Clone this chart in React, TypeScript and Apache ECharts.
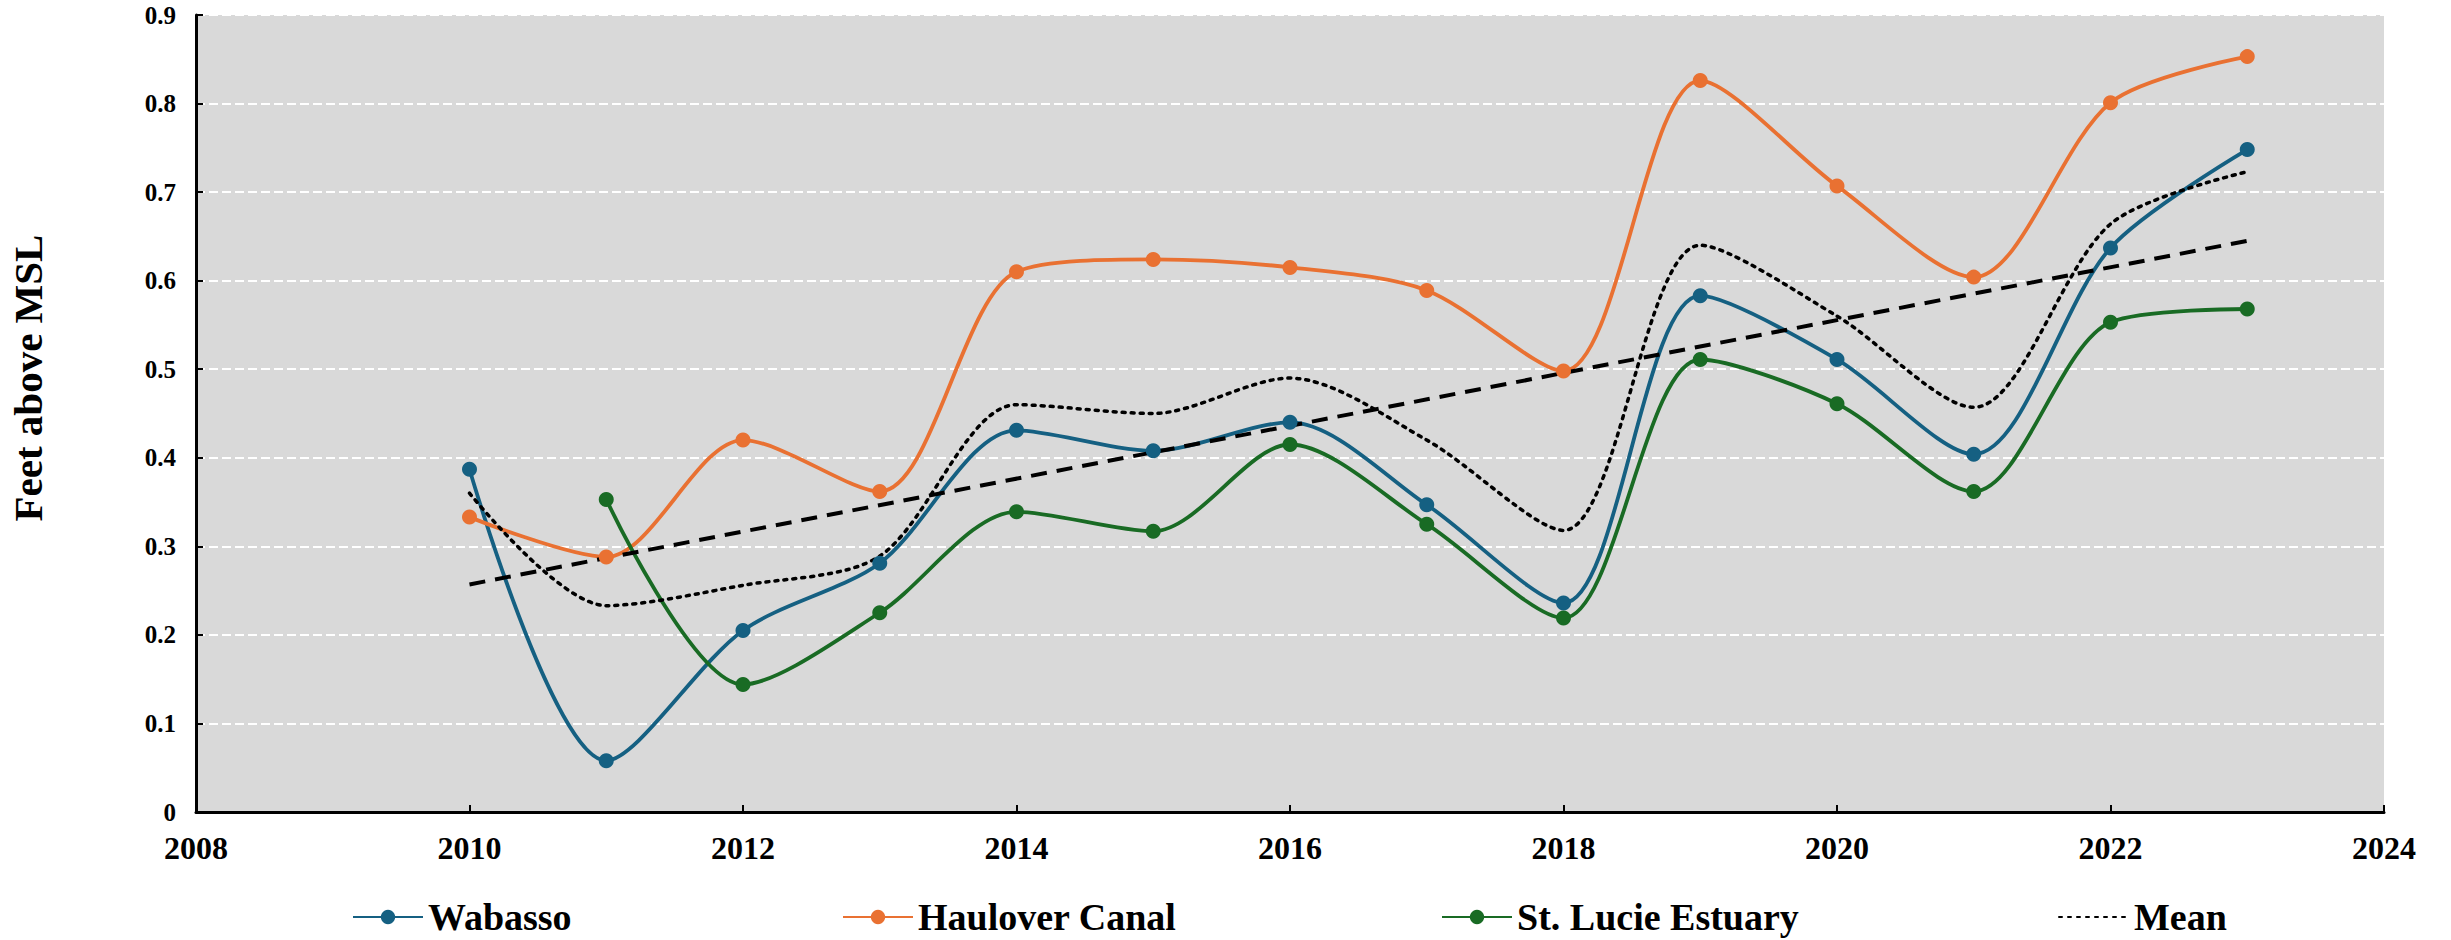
import React, { useEffect, useRef } from "react";
import * as echarts from "echarts";

const years = [2010, 2011, 2012, 2013, 2014, 2015, 2016, 2017, 2018, 2019, 2020, 2021, 2022, 2023];
const wabasso = [0.387, 0.058, 0.205, 0.281, 0.431, 0.408, 0.44, 0.347, 0.236, 0.583, 0.511, 0.404, 0.637, 0.748];
const haulover = [0.333, 0.288, 0.42, 0.362, 0.61, 0.624, 0.615, 0.589, 0.498, 0.826, 0.707, 0.604, 0.801, 0.853];
const stLucieYears = [2011, 2012, 2013, 2014, 2015, 2016, 2017, 2018, 2019, 2020, 2021, 2022, 2023];
const stLucie = [0.353, 0.144, 0.225, 0.339, 0.317, 0.415, 0.325, 0.219, 0.511, 0.461, 0.362, 0.553, 0.568];
const mean = [0.36, 0.233, 0.256, 0.289, 0.46, 0.45, 0.49, 0.42, 0.318, 0.64, 0.56, 0.457, 0.664, 0.723];
const trendYears = [2010, 2023];
const trend = [0.257, 0.645];

const xTicks = { min: 2008, max: 2024, interval: 2 };
const yTicks = { min: 0, max: 0.9, interval: 0.1 };

const seriesNames = ["Wabasso", "Haulover Canal", "St. Lucie Estuary", "Mean"];
const colors = ["#156082", "#E97132", "#196B24", "#000000"];

const FONT = "'Liberation Serif', 'Times New Roman', serif";
const SMOOTH = 0.3;

export default function App() {
  const ref = useRef<HTMLDivElement>(null);
  useEffect(() => {
    document.body.style.margin = "0";
    const chart = echarts.init(ref.current!, null, { renderer: "svg" });
    const pairs = (xs: number[], ys: number[]) => xs.map((x, i) => [x, ys[i]]);
    const lineSeries = (name: string, xs: number[], ys: number[], color: string) => ({
      name,
      type: "line",
      data: pairs(xs, ys),
      smooth: SMOOTH,
      symbol: "circle",
      symbolSize: 15,
      itemStyle: { color },
      lineStyle: { color, width: 3.8 },
    });
    const legendPos = [352, 842, 1441, 2058];
    chart.setOption({
      animation: false,
      grid: {
        left: 196,
        right: 67,
        top: 15,
        bottom: 128,
        show: true,
        backgroundColor: "#D9D9D9",
        borderWidth: 0,
      },
      legend: seriesNames.map((n, i) => ({
        data: [i === 3 ? { name: n, itemStyle: { opacity: 0 } } : n],
        left: legendPos[i],
        top: 898,
        padding: 0,
        itemWidth: 70,
        itemHeight: 18,
        itemGap: 10,
        textStyle: { fontFamily: FONT, fontWeight: "bold", fontSize: 38, color: "#000" },
      })),
      xAxis: {
        type: "value",
        min: xTicks.min,
        max: xTicks.max,
        interval: xTicks.interval,
        axisLine: { show: true, lineStyle: { color: "#000", width: 3 } },
        axisTick: { show: true, inside: true, length: 7, lineStyle: { color: "#000", width: 2 } },
        splitLine: { show: false },
        axisLabel: {
          fontFamily: FONT,
          fontWeight: "bold",
          fontSize: 32,
          color: "#000",
          margin: 20,
          formatter: (v: number) => String(v),
        },
      },
      yAxis: {
        type: "value",
        min: yTicks.min,
        max: yTicks.max,
        interval: yTicks.interval,
        axisLine: { show: true, lineStyle: { color: "#000", width: 3 } },
        axisTick: { show: true, inside: true, length: 7, lineStyle: { color: "#000", width: 2 } },
        splitLine: { show: true, lineStyle: { color: "#FFFFFF", width: 2, type: [9, 4] } },
        axisLabel: {
          fontFamily: FONT,
          fontWeight: "bold",
          fontSize: 25,
          color: "#000",
          margin: 20,
          formatter: (v: number) => String(Math.round(v * 10) / 10),
        },
      },
      graphic: [
        {
          type: "text",
          x: 28,
          y: 378,
          rotation: Math.PI / 2,
          style: {
            text: "Feet above MSL",
            fontFamily: FONT,
            fontWeight: "bold",
            fontSize: 41,
            fill: "#000",
            textAlign: "center",
            textVerticalAlign: "middle",
          },
        },
      ],
      series: [
        lineSeries(seriesNames[0], years, wabasso, colors[0]),
        lineSeries(seriesNames[1], years, haulover, colors[1]),
        lineSeries(seriesNames[2], stLucieYears, stLucie, colors[2]),
        {
          name: seriesNames[3],
          type: "line",
          data: pairs(years, mean),
          smooth: SMOOTH,
          symbol: "none",
          itemStyle: { color: "#000" },
          lineStyle: { color: "#000", width: 3.5, type: [3, 6], cap: "round" },
        },
        {
          name: "Trend",
          type: "line",
          data: pairs(trendYears, trend),
          symbol: "none",
          lineStyle: { color: "#000", width: 4, type: [16, 10] },
          z: 3,
        },
      ],
    });
    return () => chart.dispose();
  }, []);
  return <div ref={ref} style={{ width: 2451, height: 940 }} />;
}
